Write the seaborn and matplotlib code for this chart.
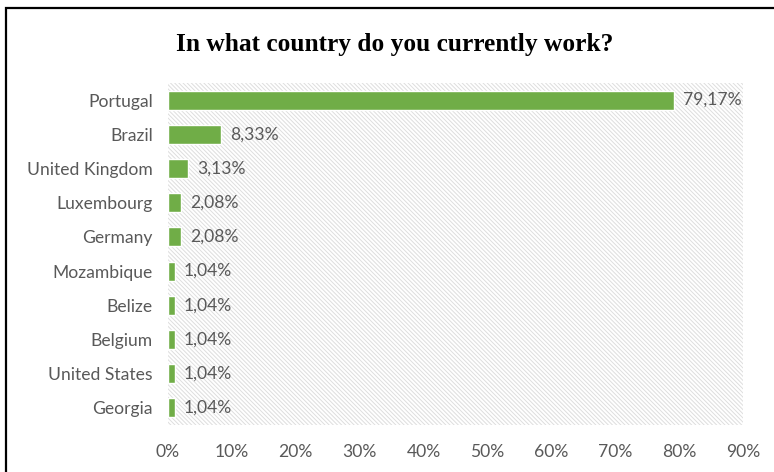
import matplotlib
matplotlib.use("Agg")
import matplotlib.pyplot as plt
import seaborn as sns
import pandas as pd
from matplotlib.patches import Rectangle
from matplotlib.ticker import FuncFormatter

countries = ["Portugal", "Brazil", "United Kingdom", "Luxembourg", "Germany",
             "Mozambique", "Belize", "Belgium", "United States", "Georgia"]
values = [79.17, 8.33, 3.13, 2.08, 2.08, 1.04, 1.04, 1.04, 1.04, 1.04]
x_ticks = [0, 10, 20, 30, 40, 50, 60, 70, 80, 90]
title = "In what country do you currently work?"

df = pd.DataFrame({"country": countries, "value": values})

sns.set_theme(style="white")
plt.rcParams["font.family"] = ["Lato", "DejaVu Sans"]
plt.rcParams["hatch.linewidth"] = 0.7
plt.rcParams["hatch.color"] = "#dedede"

fig = plt.figure(figsize=(7.74, 4.72), dpi=100)
ax = fig.add_axes([168/774, 1-425/472, (743-168)/774, (425-83)/472])

# hatched background
ax.add_patch(Rectangle((0, 0), 1, 1, transform=ax.transAxes, facecolor="white",
                       edgecolor="#dedede", hatch="\\" * 8, linewidth=0, zorder=0))

sns.barplot(data=df, y="country", x="value", ax=ax, color="#70AD47",
            saturation=1, width=0.55, zorder=2)

ax.set_xlim(0, 90)
ax.set_xticks(x_ticks)
ax.xaxis.set_major_formatter(FuncFormatter(lambda v, p: f"{int(v)}%"))
ax.set_xlabel("")
ax.set_ylabel("")
for s in ax.spines.values():
    s.set_visible(False)
ax.tick_params(axis="both", length=0, labelsize=12.6, colors="#595959")
ax.tick_params(axis="y", pad=11)
ax.tick_params(axis="x", pad=14)

for i, v in enumerate(values):
    ax.text(v + 1.4, i, f"{v:.2f}%".replace(".", ","), va="center", ha="left",
            fontsize=12.6, color="#595959")

fig.text(395/774, 1-44/472, title, ha="center", va="center",
         fontsize=18.3, fontweight="bold", family="Liberation Serif", color="black")

# outer border (top and left visible)
fig.add_artist(Rectangle((6/774, -0.1), 1.2, 1 - 8/472 + 0.1, transform=fig.transFigure,
                         fill=False, edgecolor="black", linewidth=1.6))

fig.savefig("out.png", dpi=100)
